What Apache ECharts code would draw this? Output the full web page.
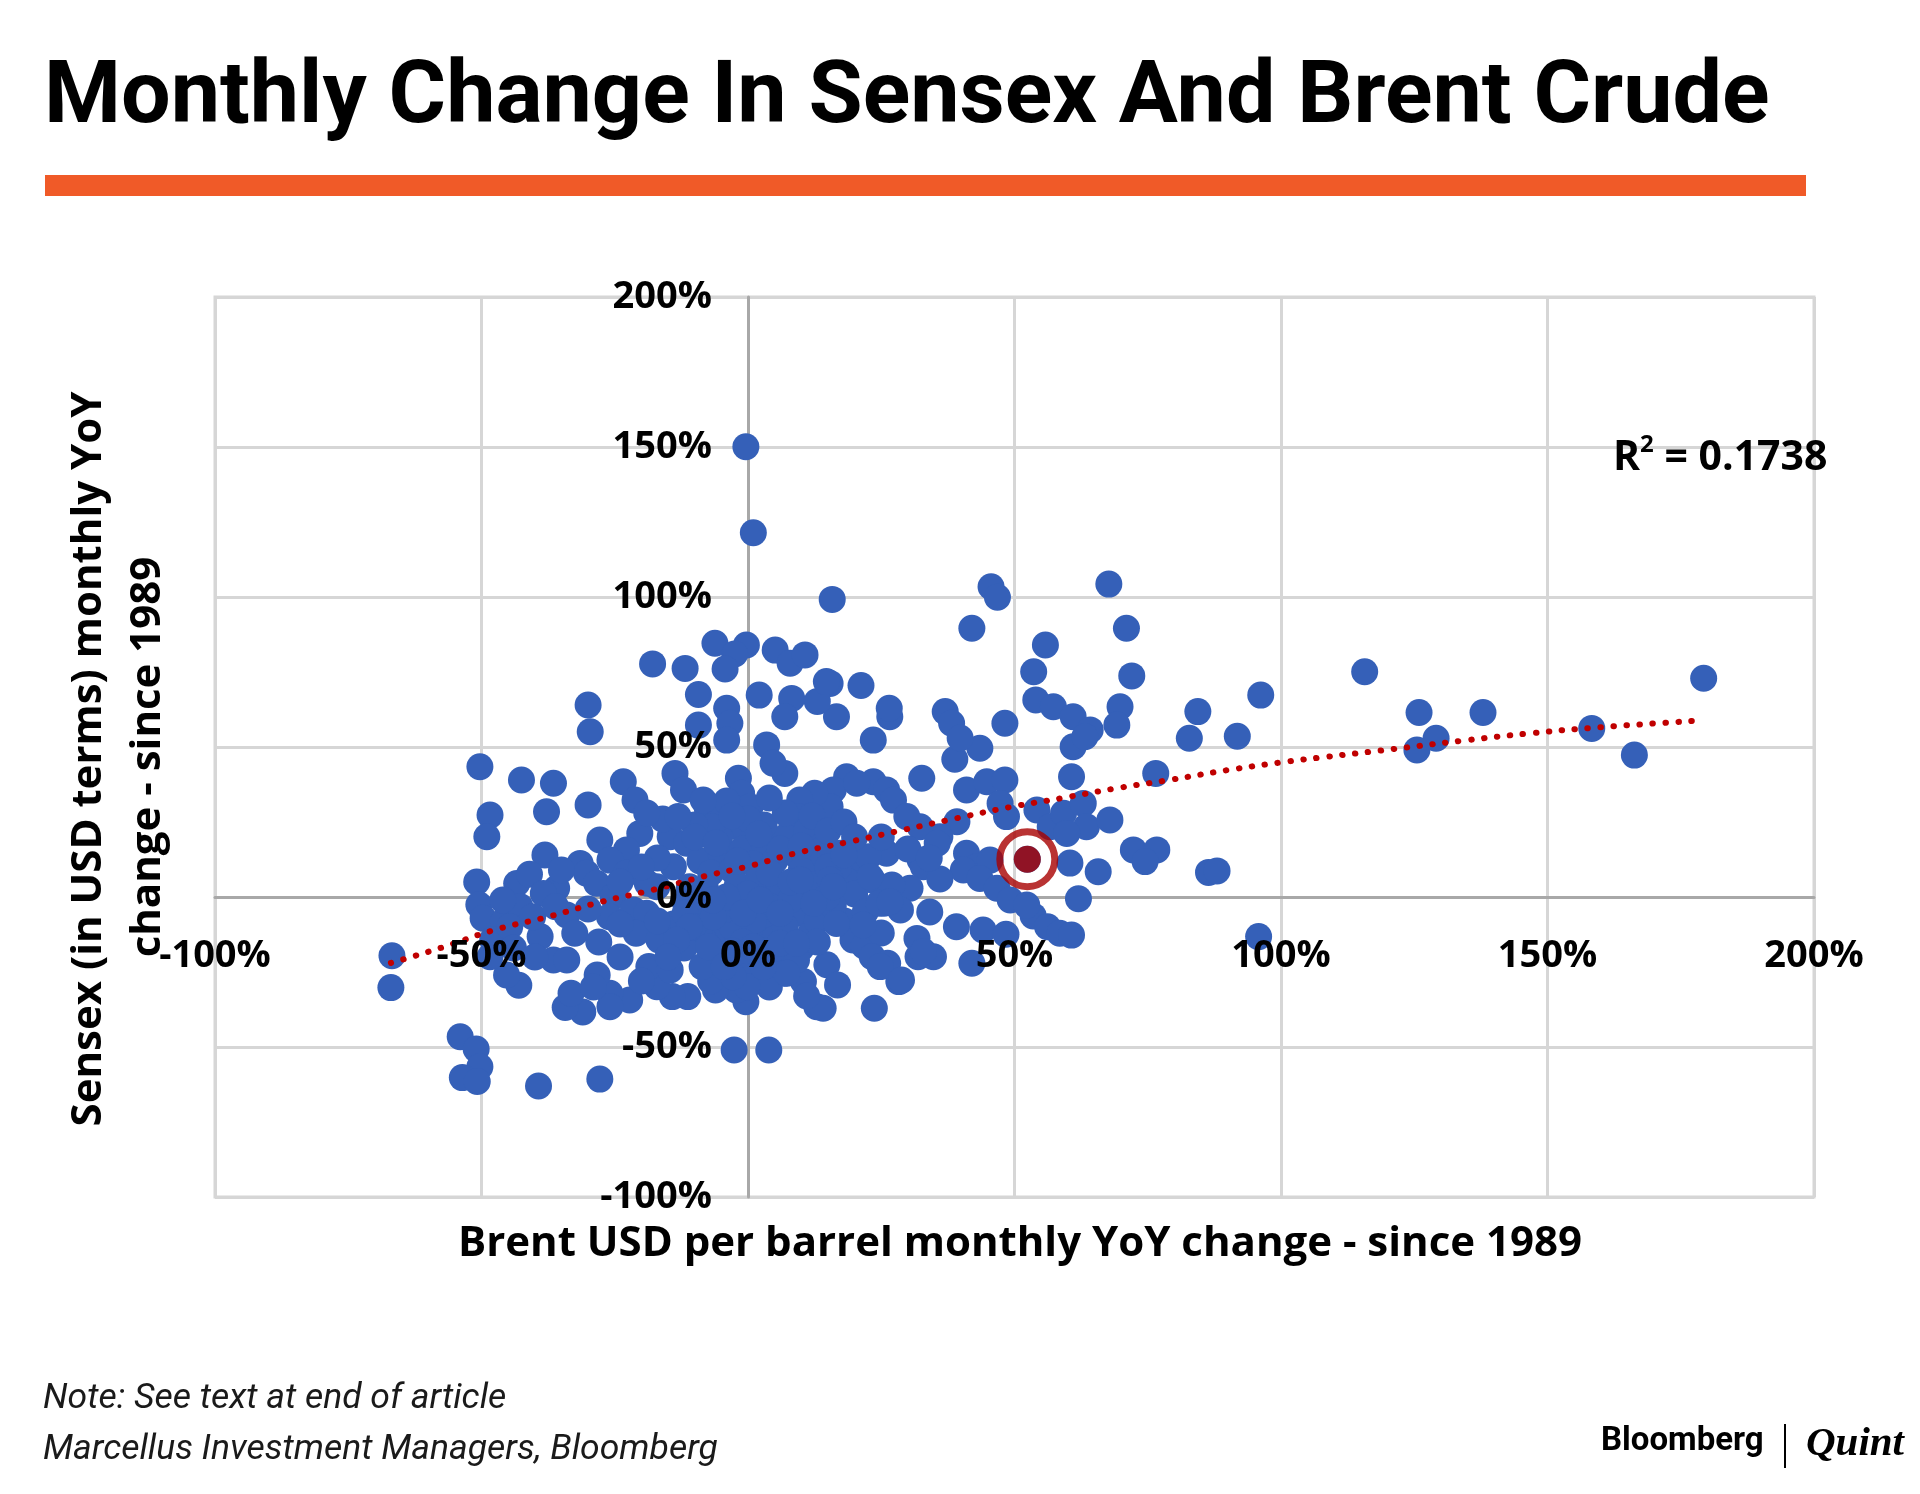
<!DOCTYPE html>
<html>
<head>
<meta charset="utf-8">
<script src="https://cdn.jsdelivr.net/npm/echarts@6/dist/echarts.min.js"></script>
<style>
html,body{margin:0;padding:0;background:#ffffff;}
#chart{width:1920px;height:1494px;}
</style>
</head>
<body>
<div id="chart"></div>
<script>
// ---------- data ----------
const xTicks = [-100, -50, 0, 50, 100, 150, 200];
const yTicks = [-100, -50, 0, 50, 100, 150, 200];

// [Brent YoY %, Sensex (USD) YoY %]
const outerPoints = [
  [-0.4,150.1],[1.0,121.4],[15.8,99.2],[45.6,103.4],[46.8,99.9],[42.0,89.6],[67.7,104.3],[71.0,89.6],
  [55.8,84.0],[53.6,75.1],[72.0,73.7],[96.2,67.3],[115.7,75.1],[125.9,61.5],[137.9,61.5],[179.3,72.9],
  [129.1,52.9],[125.5,49.0],[158.3,56.2],[166.3,47.3],[95.8,-13.2]
];
const rightPoints = [
  [84.4,61.8],[82.8,52.9],[91.8,53.6],[69.8,63.4],[69.2,57.3],[54.0,65.7],[57.3,63.4],[61.0,60.1],
  [64.2,55.7],[61.0,50.1],[63.2,53.4],[60.7,40.1],[76.5,41.2],[48.2,57.9],[43.5,49.6],[38.8,45.9],
  [37.0,61.8],[38.2,57.9],[39.8,53.0],[26.6,60.1],[23.5,52.3],[21.2,70.5],[15.4,71.2],[16.6,60.1],
  [13.0,65.2],[32.6,39.6],[18.5,40.1],[23.5,38.4],[26.0,35.7],[27.3,32.3],[16.0,35.7],[15.4,30.1],
  [41.0,35.7],[44.8,38.4],[48.2,39.0],[47.3,31.2],[48.5,26.8],[54.2,29.0],[56.7,23.4],[59.2,27.9],
  [62.9,31.2],[63.5,23.4],[67.9,25.7],[59.8,21.2],[39.2,25.1],[36.0,20.1],[32.3,23.4],[29.8,26.8],
  [32.3,12.3],[26.0,14.6],[72.3,15.7],[76.7,15.7],[74.5,11.8],[86.4,8.2],[88.0,8.7],[60.4,11.3],
  [65.7,8.4],[41.0,14.6],[42.9,10.1],[45.4,12.3],[40.4,9.0],[52.4,12.6],[21.0,12.3],[17.3,14.6],
  [26.5,62.9],[8.2,66.2],[2.1,67.3],[14.7,71.8],[-4.0,62.9],[20.4,37.9]
];
const upperLeftPoints = [
  [-6.2,84.6],[-0.3,84.0],[-2.5,81.0],[-4.3,76.0],[5.1,82.3],[7.9,77.9],[10.7,80.7],[-17.9,77.7],
  [-11.8,76.2],[-9.3,67.5],[6.9,60.1],[-3.4,57.9],[-4.0,52.3],[-9.3,57.3],[3.5,50.7],[6.9,41.2],
  [4.7,44.6],[-1.8,39.6],[-1.2,34.6],[0.4,30.1],[-30.0,64.0],[-29.6,55.1],[-50.3,43.4],[-42.5,39.0],
  [-36.5,37.9],[-48.4,27.3],[-49.0,20.1],[-37.8,28.4],[-30.0,30.7],[-23.4,38.4],[-21.2,32.3],[-13.7,41.2],
  [-12.1,35.7],[-38.1,14.0],[-27.8,19.0],[-31.5,11.2],[-20.3,21.2],[-22.8,15.7],[-14.6,20.1],[-11.5,17.9],
  [-6.5,26.8],[-0.9,22.3],[-5.3,20.1],[-50.9,5.0],[-43.4,4.5],[-41.0,7.6],[-25.9,12.3]
];
const centrePoints = [
  [12.5,34.6],[9.7,32.3],[9.3,26.8],[-7.6,29.0],[-6.8,23.4],[35.5,17.9],[43.5,6.2],[46.7,2.9],
  [49.2,-1.0],[32.9,10.1],[30.4,2.9],[22.6,13.4],[23.3,5.7],[18.3,5.7],[12.5,10.1],[14.7,3.4],
  [9.7,1.2],[25.5,-2.1],[28.6,-4.3],[34.1,-5.0],[18.1,-8.0],[19.7,-14.3],[21.8,-16.3],[14.8,-22.6],
  [2.5,-12.1],[5.3,-7.7],[9.7,-5.4],[11.8,-12.1],[-5.4,-12.1],[-1.8,-21.0],[3.2,-22.1],[8.9,-21.0],
  [-9,12],[-5,14],[-1,16],[3,18],[7,20],[11,22],[14,17],[-7,8],[-3,9],[1,11],[5,12],[9,14],[13,15],
  [-9,-2],[-2,4],[2,6],[6,3],[10,9],[0,1],[4,-3],[8,-1],[-3,-10],[1,-8],[5,-14],[-8,-15],[-1,-15],
  [3,24],[7,28],[0,26],[4,33],[-4,32],[6,16],[-10,24],[12,27],[15,22],[18,25],[20,20],[17,10],
  [20,1],[13,-8],[10,-17],[-12,-17],[-3,-18],[-16,26],[-19,28],[-10,20],[-3,27],[27,4],[30,16],[25,20],
  [36,6],[34,13],[25,-12],[22,-5],
  [-8,3],[4,8],[8,5],[12,4],[-4,-4],[3,-18],[7,-10],[-6,18],[2,21],[10,17],[15,10],[-12,-1],
  [16,-3],[-2,12],[7,-18],[-9,-10],[0,-22],[13,-15],[-14,-9],[18,14]
];
const lowerPoints = [
  [-2.6,-51.0],[3.9,-51.0],[12.9,-36.6],[23.7,-37.1],[-0.4,-34.9],[-2.2,-31.0],[-0.4,-26.6],[-6.1,-31.0],
  [6.8,-25.4],[10.4,-28.2],[16.8,-29.3],[23.3,-19.9],[28.3,-28.2],[26.2,-22.1],[31.9,-19.9],[34.8,-19.9],
  [42.0,-22.1],[39.1,-9.9],[44.1,-11.0],[48.4,-12.4],[53.5,-6.3],[56.2,-9.9],[58.5,-12.1],[60.7,-12.7],
  [62.0,-0.6],[52.3,-2.7],[21.6,-9.3],[24.6,-2.1],[26.6,-1.6],[31.7,-13.8],[32.9,-18.2],[24.8,-23.2],
  [28.8,-27.7],[14.1,-37.1],[15.4,5.7],[22.9,6.8],[14.8,0.0],[16.6,-8.8],[12.3,-2.1],[16.0,3.4],[9.8,5.7],
  [11,-33],[4,-30],[-7,-28]
];
const leftPoints = [
  [-66.8,-19.6],[-67.0,-30.2],[-54.0,-46.6],[-51.0,-50.7],[-50.3,-56.6],[-53.6,-60.2],[-50.8,-61.5],
  [-39.3,-63.0],[-27.8,-60.7],[-50.5,-2.6],[-49.7,-7.1],[-45.9,-8.2],[-42.8,-3.2],[-35.9,2.9],[-38.4,1.2],
  [-34.0,-6.0],[-30.3,7.9],[-28.4,4.6],[-25.3,0.1],[-22.8,7.9],[-21.5,-4.3],[-17.1,3.4],[-19.0,-5.4],
  [-14.0,10.1],[-11.8,-5.4],[-10.3,-9.9],[-6.5,-6.6],[-4.0,0.1],[-0.9,-5.4],[2.3,-1.0],[6.0,-5.4],
  [9.1,-21.0],[7.3,-25.4],[-0.2,-29.9],[-2.8,-26.6],[-8.6,-23.2],[-11.3,-33.2],[-14.2,-33.2],[-17.1,-29.9],
  [-18.6,-23.2],[-14.6,-24.3],[-22.2,-34.3],[-25.9,-32.1],[-28.3,-26.0],[-25.9,-36.6],[-31.0,-38.3],
  [-34.3,-36.8],[-36.5,-21.0],[-34.0,-21.0],[-39.0,-13.2],[-43.0,-29.4],[-45.3,-26.0],[-48.4,-19.9],
  [-47.9,-14.3],[-44.7,-9.9],[-40.4,-6.6],[-36.1,-3.2],[-26.0,-6.6],[-21.0,-12.1],[-16.7,-14.3],
  [-11.0,-9.9],[-7.4,-16.6],[-4.5,-23.2],[-18.9,4.6],[-11.0,3.4],[-6.6,-1.0],[-13.1,26.8],[-8.4,32.3],
  [-13.4,-14.3],[2.9,-23.2],[6.0,-15.4],[1.0,-16.6],[9.1,-15.4],[-33.2,-32.1],[-32.5,-12.1],
  [-17,13],[-20,10],[-17,-8],[-24,-9],[-28,-15],[-24,-20],[-15,-20],[-30,-4],[-24,5],[-35,9],
  [-44,-17],[-40,-20],[-29,-30],[-20,-28],[-46,-1]
];
const trendPoints = [
  [-67,-22.0],[-57,-16.6],[-47.6,-11.0],[-37.5,-6.6],[-27.5,-1.6],[-18,2.3],[-8,7.0],[0,10.2],
  [9,14.6],[19,18.4],[29,22.3],[39,26.2],[49,29.9],[59,33.0],[69,36.2],[79,39.0],[90,42.3],
  [101,45.1],[108,46.6],[121,49.3],[134,52.1],[147,54.6],[160,56.6],[178.5,58.8]
];
const highlightPoint = [[52.4, 12.6]];
const rSquared = '0.1738';

const allPoints = [].concat(outerPoints, rightPoints, upperLeftPoints, centrePoints, lowerPoints, leftPoints);

// ---------- chart ----------
const chart = echarts.init(document.getElementById('chart'), null, {renderer: 'canvas'});
const pct = v => v + '%';
const tickFont = {fontFamily: 'Open Sans', fontWeight: 'bold', fontSize: 38, color: '#000000'};

const GRID = {left: 215, right: 106, top: 297, bottom: 297};
const CHART_W = 1920, CHART_H = 1494;
const plotW = CHART_W - GRID.left - GRID.right;
const plotH = CHART_H - GRID.top - GRID.bottom;
// offsets that bring the label-only axes onto the zero lines
const xZeroOffset = -plotH * (0 - yTicks[0]) / (yTicks[yTicks.length - 1] - yTicks[0]);
const yZeroOffset = -plotW * (0 - xTicks[0]) / (xTicks[xTicks.length - 1] - xTicks[0]);

const option = {
  animation: false,
  backgroundColor: '#ffffff',
  grid: Object.assign({outerBoundsMode: 'none', containLabel: false,
         show: true, borderColor: '#d6d6d6', borderWidth: 3}, GRID),
  xAxis: [
    {type: 'value', min: xTicks[0], max: xTicks[xTicks.length - 1], interval: 50,
      axisLine: {onZero: true, lineStyle: {color: '#a8a8a8', width: 3}},
      axisTick: {show: false}, axisLabel: {show: false},
      splitLine: {show: true, lineStyle: {color: '#d6d6d6', width: 3}}},
    {type: 'value', min: xTicks[0], max: xTicks[xTicks.length - 1], interval: 50,
      position: 'bottom', offset: xZeroOffset, z: 10,
      axisLine: {show: false, onZero: false},
      axisTick: {show: false}, splitLine: {show: false},
      axisLabel: Object.assign({formatter: pct, margin: 40, showMinLabel: true, showMaxLabel: true}, tickFont)}
  ],
  yAxis: [
    {type: 'value', min: yTicks[0], max: yTicks[yTicks.length - 1], interval: 50,
      axisLine: {onZero: true, lineStyle: {color: '#a8a8a8', width: 3}},
      axisTick: {show: false}, axisLabel: {show: false},
      splitLine: {show: true, lineStyle: {color: '#d6d6d6', width: 3}}},
    {type: 'value', min: yTicks[0], max: yTicks[yTicks.length - 1], interval: 50,
      position: 'left', offset: yZeroOffset, z: 10,
      axisLine: {show: false, onZero: false},
      axisTick: {show: false}, splitLine: {show: false},
      axisLabel: Object.assign({formatter: pct, margin: 36, showMinLabel: true, showMaxLabel: true}, tickFont)}
  ],
  series: [
    {type: 'scatter', xAxisIndex: 0, yAxisIndex: 0, data: allPoints, symbol: 'circle', symbolSize: 27,
      itemStyle: {color: '#3560b8', opacity: 1}, z: 2, silent: true},
    {type: 'line', xAxisIndex: 0, yAxisIndex: 0, data: trendPoints, smooth: true, showSymbol: false,
      lineStyle: {color: '#c00000', width: 6, type: [0.5, 12.5], cap: 'round'}, z: 3, silent: true},
    {type: 'scatter', xAxisIndex: 0, yAxisIndex: 0, data: highlightPoint, symbol: 'circle', symbolSize: 55,
      itemStyle: {color: 'rgba(0,0,0,0)', borderColor: '#a80000', borderWidth: 7}, z: 4, silent: true},
    {type: 'scatter', xAxisIndex: 0, yAxisIndex: 0, data: highlightPoint, symbol: 'circle', symbolSize: 27,
      itemStyle: {color: '#a80000'}, z: 5, silent: true}
  ],
  graphic: [
    {type: 'text', left: 44, top: 56, z: 20,
      style: {text: 'Monthly Change In Sensex And Brent Crude', fontFamily: 'Roboto', fontWeight: 'bold',
        fontSize: 88, fill: '#000000'}},
    {type: 'rect', shape: {x: 45, y: 175, width: 1761, height: 21}, style: {fill: '#f05a28'}, z: 20},
    {type: 'text', x: 89, y: 759, rotation: Math.PI / 2, z: 20,
      style: {text: 'Sensex (in USD terms) monthly YoY', x: 0, y: 0, align: 'center', verticalAlign: 'middle',
        fontFamily: 'Open Sans', fontWeight: 'bold', fontSize: 42, fill: '#000000'}},
    {type: 'text', x: 148, y: 757, rotation: Math.PI / 2, z: 20,
      style: {text: 'change - since 1989', x: 0, y: 0, align: 'center', verticalAlign: 'middle',
        fontFamily: 'Open Sans', fontWeight: 'bold', fontSize: 42, fill: '#000000'}},
    {type: 'text', x: 1020, y: 1244, z: 20,
      style: {text: 'Brent USD per barrel monthly YoY change - since 1989', x: 0, y: 0, align: 'center',
        verticalAlign: 'middle', fontFamily: 'Open Sans', fontWeight: 'bold', fontSize: 42, fill: '#000000'}},
    {type: 'text', x: 1613, y: 456, z: 20,
      style: {text: '{r|R}{s|2}{r| = ' + rSquared + '}', x: 0, y: 0, align: 'left', verticalAlign: 'middle',
        rich: {
          r: {fontFamily: 'Open Sans', fontWeight: 'bold', fontSize: 41, fill: '#000000', lineHeight: 46, verticalAlign: 'bottom'},
          s: {fontFamily: 'Open Sans', fontWeight: 'bold', fontSize: 24, fill: '#000000', lineHeight: 46, verticalAlign: 'top'}
        }}},
    {type: 'text', x: 43, y: 1399, z: 20,
      style: {text: 'Note: See text at end of article', x: 0, y: 0, align: 'left', verticalAlign: 'middle',
        fontFamily: 'Roboto', fontStyle: 'italic', fontSize: 35.5, fill: '#1a1a1a'}},
    {type: 'text', x: 43, y: 1450, z: 20,
      style: {text: 'Marcellus Investment Managers, Bloomberg', x: 0, y: 0, align: 'left', verticalAlign: 'middle',
        fontFamily: 'Roboto', fontStyle: 'italic', fontSize: 35.5, fill: '#1a1a1a'}},
    {type: 'text', x: 1601, y: 1442, z: 20,
      style: {text: 'Bloomberg', x: 0, y: 0, align: 'left', verticalAlign: 'middle',
        fontFamily: 'Roboto', fontWeight: 'bold', fontSize: 33, fill: '#000000'}},
    {type: 'rect', shape: {x: 1784, y: 1424, width: 2, height: 44}, style: {fill: '#000000'}, z: 20},
    {type: 'text', x: 1806, y: 1444, z: 20,
      style: {text: 'Quint', x: 0, y: 0, align: 'left', verticalAlign: 'middle',
        fontFamily: 'Liberation Serif', fontStyle: 'italic', fontWeight: 'bold', fontSize: 41, fill: '#000000'}}
  ]
};
chart.setOption(option);
</script>
</body>
</html>
